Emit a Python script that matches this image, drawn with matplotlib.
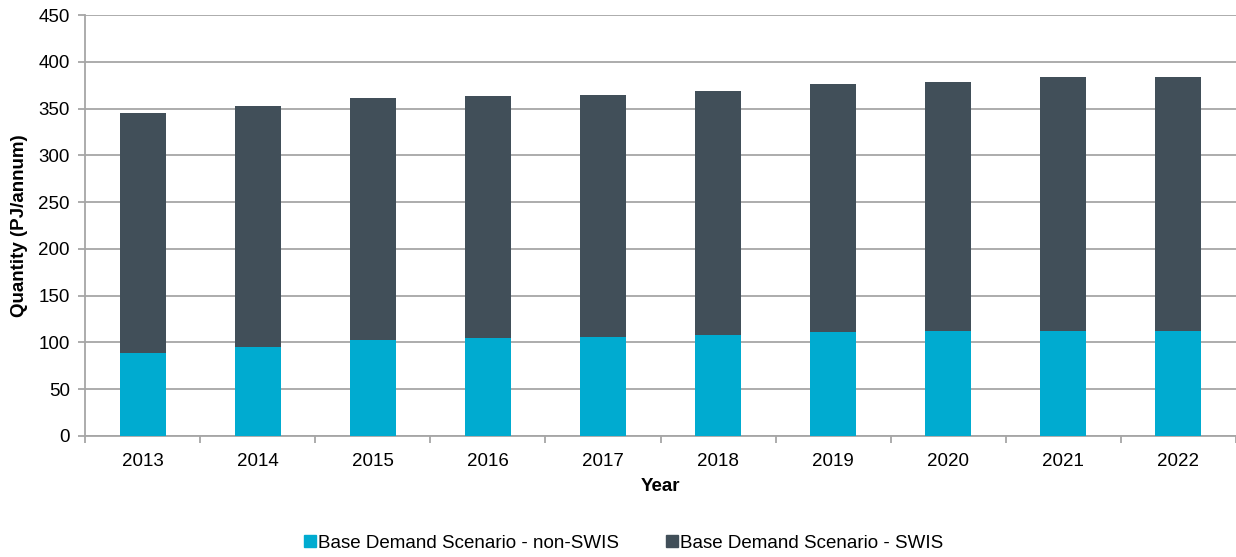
import numpy as np
import matplotlib.pyplot as plt
from matplotlib.patches import Patch

plt.rcParams['font.family'] = ['Liberation Sans', 'DejaVu Sans']

years = ['2013', '2014', '2015', '2016', '2017', '2018', '2019', '2020', '2021', '2022']
total = [345.5, 352.7, 361.5, 363.4, 364.3, 368.7, 376.4, 378.6, 383.5, 384.2]
non_swis = [88.7, 95.1, 102.3, 104.4, 105.8, 108.0, 111.2, 112.2, 111.9, 112.2]
swis = [t - n for t, n in zip(total, non_swis)]

c_non = '#00abd0'
c_swis = '#414f59'
grid_c = '#a6a6a6'
fs = 13.5

fig = plt.figure(figsize=(12.36, 5.57), dpi=100)
ax = fig.add_axes([85 / 1236, 1 - 436 / 557, 1151 / 1236, 421 / 557])

x = np.arange(len(years))
ax.bar(x, non_swis, width=0.4, color=c_non, zorder=3)
ax.bar(x, swis, width=0.4, bottom=non_swis, color=c_swis, zorder=3)

ax.set_xlim(-0.5, len(years) - 0.5)
ax.set_ylim(0, 450)
ax.set_yticks(np.arange(0, 451, 50))
ax.yaxis.grid(True, color=grid_c, linewidth=1.3, zorder=0)
ax.set_axisbelow(True)

ax.set_xticks(x)
ax.set_xticklabels(years)
ax.set_xticks(np.arange(-0.5, len(years)), minor=True)
ax.tick_params(axis='x', which='major', length=0, pad=12, labelsize=fs)
ax.tick_params(axis='x', which='minor', length=5, color=grid_c, width=1.3)
ax.tick_params(axis='y', length=5, color=grid_c, width=1.3, labelsize=fs, pad=6)

for s in ['top', 'right']:
    ax.spines[s].set_visible(False)
for s in ['left', 'bottom']:
    ax.spines[s].set_color(grid_c)
    ax.spines[s].set_linewidth(1.3)

ax.set_xlabel('Year', fontsize=fs, fontweight='bold', labelpad=6)
ax.set_ylabel('Quantity (PJ/annum)', fontsize=fs, fontweight='bold', labelpad=7)

handles = [Patch(color=c_non, label='Base Demand Scenario - non-SWIS'),
           Patch(color=c_swis, label='Base Demand Scenario - SWIS')]
fig.legend(handles=handles, loc='center', bbox_to_anchor=(624 / 1236, 1 - 543 / 557),
           ncol=2, frameon=False, fontsize=fs, handlelength=0.6, handleheight=0.6,
           handletextpad=0.15, columnspacing=2.5, borderpad=0)

fig.savefig('out.png', dpi=100)
